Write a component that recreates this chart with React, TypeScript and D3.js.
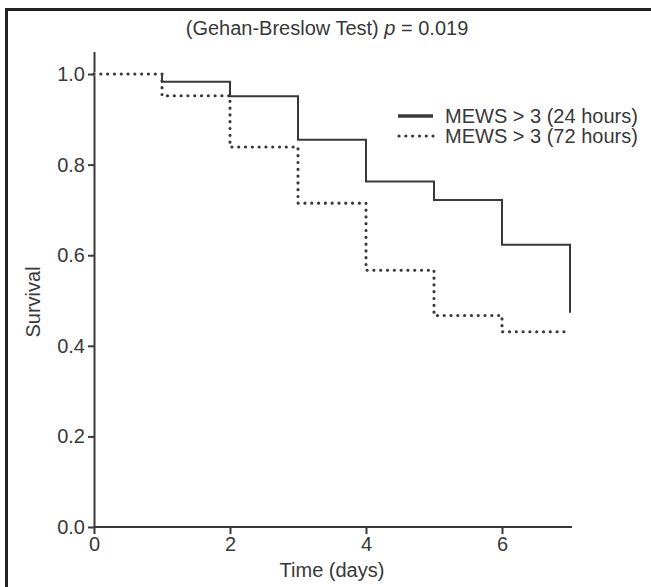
import React, { useEffect, useRef } from 'react';
import * as d3 from 'd3';

// survival curves
const days = [0, 1, 2, 3, 4, 5, 6, 7];
const mews24 = [1.0, 0.983, 0.951, 0.855, 0.763, 0.722, 0.623, 0.473];
const mews72 = [1.0, 0.952, 0.839, 0.715, 0.567, 0.467, 0.431, 0.431];
const yTicks = [0, 0.2, 0.4, 0.6, 0.8, 1.0];
const xTicks = [0, 2, 4, 6];
const legendLabels = ['MEWS > 3 (24 hours)', 'MEWS > 3 (72 hours)'];

const W = 651, H = 587;
const FONT = '"Liberation Sans", Arial, Helvetica, sans-serif';
const INK = '#383838';

export default function App() {
  const ref = useRef<SVGSVGElement>(null);

  useEffect(() => {
    const svg = d3.select(ref.current);
    svg.selectAll('*').remove();

    const x = d3.scaleLinear().domain([0, 7]).range([94, 570]);
    const y = d3.scaleLinear().domain([0, 1.05]).range([527, 51.4]);

    // frame (top and left edges visible)
    svg.append('path')
      .attr('d', `M6.5,${H} L6.5,9.5 L${W},9.5`)
      .attr('fill', 'none').attr('stroke', '#222').attr('stroke-width', 3);

    // title
    const title = svg.append('text')
      .attr('x', 327).attr('y', 35)
      .attr('text-anchor', 'middle')
      .style('font', `20px ${FONT}`).attr('fill', INK);
    title.append('tspan').text('(Gehan-Breslow Test) ');
    title.append('tspan').style('font-style', 'italic').text('p');
    title.append('tspan').text(' = 0.019');

    // axes
    const yAxis = svg.append('g')
      .attr('transform', `translate(${x(0)},0)`)
      .call(d3.axisLeft(y).tickValues(yTicks).tickFormat(d3.format('.1f')).tickSize(6).tickSizeOuter(0).tickPadding(3));
    const xAxis = svg.append('g')
      .attr('transform', `translate(0,${y(0)})`)
      .call(d3.axisBottom(x).tickValues(xTicks).tickFormat(d3.format('d')).tickSize(7).tickSizeOuter(0).tickPadding(3));

    [yAxis, xAxis].forEach(a => {
      a.select('.domain').attr('stroke', INK).attr('stroke-width', 2);
      a.selectAll('.tick line').attr('stroke', INK).attr('stroke-width', 2);
      a.selectAll('.tick text').style('font', `20px ${FONT}`).attr('fill', INK);
    });
    xAxis.select('.domain').attr('d', `M${x(0)},0H572`);

    // axis titles
    svg.append('text')
      .attr('x', 332).attr('y', 577)
      .attr('text-anchor', 'middle')
      .style('font', `20px ${FONT}`).attr('fill', INK)
      .text('Time (days)');
    svg.append('text')
      .attr('transform', 'translate(40,302) rotate(-90)')
      .attr('text-anchor', 'middle')
      .style('font', `20px ${FONT}`).attr('fill', INK)
      .text('Survival');

    // step curves
    const line = d3.line<number>()
      .x((d, i) => x(days[i]))
      .y(d => y(d))
      .curve(d3.curveStepAfter);

    svg.append('path')
      .attr('d', line(mews24))
      .attr('fill', 'none').attr('stroke', INK).attr('stroke-width', 2);

    // where both curves coincide the dotted one sits on top, on white
    const shared = mews72.findIndex((v, i) => v !== mews24[i]);
    svg.append('line')
      .attr('x1', x(days[0])).attr('x2', x(days[shared]))
      .attr('y1', y(mews72[0])).attr('y2', y(mews72[0]))
      .attr('stroke', '#fff').attr('stroke-width', 3);

    svg.append('path')
      .attr('d', line(mews72))
      .attr('fill', 'none').attr('stroke', INK).attr('stroke-width', 3.1)
      .attr('stroke-linecap', 'round').attr('stroke-dasharray', '0.1 6.7');

    // legend
    const lg = svg.append('g').attr('transform', 'translate(398,116)');
    legendLabels.forEach((lab, i) => {
      const row = lg.append('g').attr('transform', `translate(0,${i * 20})`);
      if (i === 0) {
        row.append('line').attr('x1', 0).attr('x2', 35).attr('y1', 0).attr('y2', 0)
          .attr('stroke', INK).attr('stroke-width', 3.5);
      } else {
        row.append('line').attr('x1', 1).attr('x2', 35).attr('y1', 0).attr('y2', 0)
          .attr('stroke', INK).attr('stroke-width', 3.1)
          .attr('stroke-linecap', 'round').attr('stroke-dasharray', '0.1 6.7');
      }
      row.append('text').attr('x', 47).attr('y', 7)
        .style('font', `20px ${FONT}`).attr('fill', INK)
        .text(lab);
    });
  }, []);

  return (
    <svg ref={ref} width={W} height={H}
      style={{ position: 'absolute', left: 0, top: 0, background: '#fff' }} />
  );
}
